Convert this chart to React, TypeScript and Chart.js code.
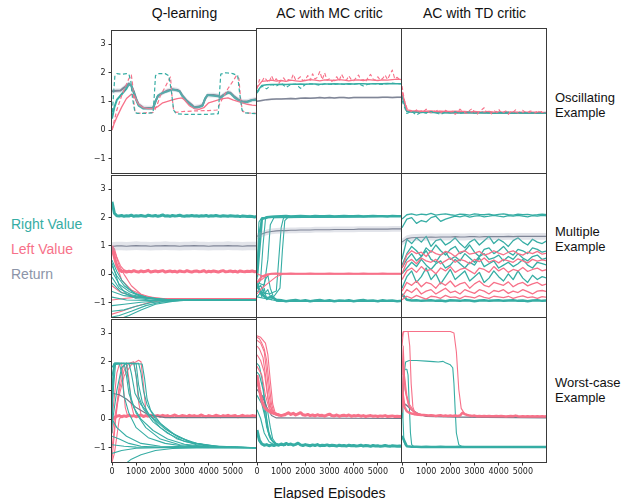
import React, { useEffect, useRef } from 'react';
import { Chart, registerables } from 'chart.js';
Chart.register(...registerables);

// ---------- colours ----------
const TEAL = '#36ada4';
const PINK = '#f77189';
const GRAY = '#737989';
const BAND = 'rgba(160,166,186,0.30)';
const TEXT_GRAY = '#8c94a8';

// ---------- axes ----------
const X_TICKS = [0, 1000, 2000, 3000, 4000, 5000];
const Y_TICKS = [-1, 0, 1, 2, 3];
const X_MIN = 0;
const X_MAX = 6000;
const Y_MIN = -1.5;
const Y_MAX = 3.5;

const COL_TITLES = ['Q-learning', 'AC with MC critic', 'AC with TD critic'];
const ROW_TITLES = [['Oscillating', 'Example'], ['Multiple', 'Example'], ['Worst-case', 'Example']];
const LEGEND_LABELS = ['Right Value', 'Left Value', 'Return'];
const X_LABEL = 'Elapsed Episodes';

// ---------- episode grids ----------
const EP_C = [0, 200, 400, 600, 800, 1000, 1200, 1400, 1600, 1800, 2000, 2200, 2400, 2600, 2800, 3000, 3200, 3400, 3600, 3800, 4000, 4200, 4400, 4600, 4800, 5000, 5200, 5400, 5600, 5800, 6000];
const EP_F = [0, 100, 200, 300, 400, 500, 600, 700, 800, 900, 1000, 1100, 1200, 1300, 1400, 1500, 1600, 1700, 1800, 1900, 2000, 2100, 2200, 2300, 2400, 2500, 2600, 2700, 2800, 2900, 3000, 3100, 3200, 3300, 3400, 3500, 3600, 3700, 3800, 3900, 4000, 4100, 4200, 4300, 4400, 4500, 4600, 4700, 4800, 4900, 5000, 5100, 5200, 5300, 5400, 5500, 5600, 5700, 5800, 5900, 6000];

// ---------- Q-learning / Oscillating ----------
const Q_OSC_RIGHT = [[0, 0.4], [100, 0.8], [200, 1.05], [400, 1.25], [600, 1.45], [700, 1.6], [800, 1.55], [900, 1.3], [1000, 1.05], [1100, 0.85], [1300, 0.75], [1500, 0.75], [1700, 0.75], [1800, 1.0], [1900, 1.2], [2100, 1.3], [2300, 1.35], [2500, 1.42], [2700, 1.38], [2800, 1.35], [2900, 1.2], [3100, 1.0], [3300, 0.85], [3400, 0.78], [3600, 0.8], [3750, 0.85], [3850, 1.1], [3950, 1.22], [4200, 1.2], [4400, 1.18], [4500, 1.12], [4600, 1.2], [4800, 1.3], [4900, 1.28], [5050, 1.15], [5200, 1.05], [5400, 0.97], [5600, 0.98], [5800, 1.05], [6000, 1.05]];
const Q_OSC_RETURN = [[0, 1.35], [200, 1.37], [350, 1.38], [500, 1.48], [700, 1.62], [800, 1.55], [900, 1.35], [1000, 1.1], [1100, 0.9], [1300, 0.78], [1500, 0.77], [1700, 0.78], [1800, 1.0], [1900, 1.18], [2100, 1.3], [2300, 1.38], [2500, 1.42], [2700, 1.4], [2800, 1.36], [2900, 1.22], [3100, 1.02], [3300, 0.88], [3400, 0.8], [3600, 0.82], [3750, 0.88], [3850, 1.08], [3950, 1.22], [4200, 1.22], [4400, 1.2], [4500, 1.15], [4600, 1.22], [4800, 1.32], [4900, 1.3], [5050, 1.18], [5200, 1.08], [5400, 1.0], [5600, 1.0], [5800, 1.05], [6000, 1.08]];
const Q_OSC_RETURN_SPREAD = 0.08;
const Q_OSC_LEFT = [[0, 0.0], [100, 0.25], [200, 0.45], [400, 0.8], [600, 1.1], [800, 1.25], [900, 1.22], [1000, 1.05], [1100, 0.9], [1300, 0.78], [1500, 0.75], [1700, 0.75], [1900, 0.82], [2100, 0.95], [2300, 1.0], [2500, 1.05], [2700, 1.1], [2900, 1.12], [3000, 1.05], [3200, 0.85], [3400, 0.75], [3600, 0.72], [3800, 0.78], [4000, 0.95], [4200, 1.0], [4400, 1.05], [4600, 1.1], [4800, 1.12], [5000, 1.05], [5200, 1.0], [5400, 0.95], [5600, 0.9], [5800, 0.87], [6000, 0.85]];
const Q_OSC_RIGHT_DASHED = [[0, 0.4], [60, 1.2], [120, 1.9], [200, 1.97], [400, 1.95], [600, 1.97], [700, 1.95], [780, 1.7], [850, 1.1], [950, 0.62], [1050, 0.58], [1400, 0.58], [1700, 0.6], [1750, 1.2], [1800, 1.9], [1900, 1.97], [2200, 1.97], [2350, 1.9], [2450, 1.4], [2550, 0.7], [2650, 0.57], [3000, 0.55], [3500, 0.55], [4000, 0.55], [4400, 0.57], [4450, 1.3], [4500, 1.95], [4700, 2.0], [5000, 1.97], [5200, 1.9], [5280, 1.3], [5380, 0.7], [5500, 0.6], [6000, 0.57]];
const Q_OSC_LEFT_DASHED = [[0, 0.0], [100, 0.35], [200, 0.7], [400, 1.2], [600, 1.6], [700, 1.8], [800, 1.92], [850, 1.6], [900, 1.0], [950, 0.65], [1050, 0.58], [1400, 0.6], [1700, 0.62], [1800, 0.75], [1900, 0.95], [2000, 1.2], [2200, 1.5], [2350, 1.75], [2420, 1.85], [2480, 1.2], [2550, 0.7], [2650, 0.62], [3000, 0.65], [3500, 0.67], [4000, 0.68], [4350, 0.7], [4450, 0.9], [4600, 1.15], [4800, 1.45], [5000, 1.7], [5150, 1.9], [5250, 1.8], [5320, 1.1], [5400, 0.65], [5600, 0.6], [6000, 0.58]];

// ---------- AC MC / Oscillating ----------
const MC_OSC_LEFT = [1.45, 1.66, 1.68, 1.70, 1.67, 1.69, 1.66, 1.70, 1.68, 1.66, 1.69, 1.72, 1.70, 1.68, 1.71, 1.70, 1.69, 1.72, 1.70, 1.68, 1.70, 1.71, 1.69, 1.72, 1.70, 1.69, 1.71, 1.70, 1.72, 1.74, 1.72];
const MC_OSC_LEFT_DASHED = [1.40, 1.72, 1.65, 1.80, 1.70, 1.62, 1.85, 1.68, 1.75, 1.60, 1.70, 1.78, 1.66, 1.72, 1.68, 1.90, 1.70, 1.75, 1.82, 1.68, 1.72, 1.86, 1.70, 1.92, 1.74, 1.80, 2.00, 1.72, 1.95, 1.70, 1.75, 1.66, 1.72, 1.82, 1.68, 1.90, 1.75, 1.70, 1.85, 1.72, 1.68, 1.78, 1.88, 1.70, 1.72, 1.65, 1.80, 1.90, 1.74, 1.70, 1.82, 1.70, 1.76, 1.88, 1.72, 1.90, 2.05, 1.75, 1.80, 1.72, 1.74];
const MC_OSC_RIGHT = [1.30, 1.52, 1.54, 1.55, 1.55, 1.56, 1.55, 1.56, 1.56, 1.57, 1.56, 1.57, 1.57, 1.56, 1.57, 1.57, 1.58, 1.57, 1.57, 1.58, 1.57, 1.58, 1.58, 1.57, 1.58, 1.58, 1.58, 1.59, 1.58, 1.58, 1.58];
const MC_OSC_RIGHT_DASHED = [1.25, 1.50, 1.40, 1.55, 1.50, 1.60, 1.45, 1.55, 1.57, 1.42, 1.55, 1.58, 1.56, 1.52, 1.58, 1.56, 1.55, 1.58, 1.55, 1.57, 1.56, 1.58, 1.50, 1.56, 1.58, 1.57, 1.55, 1.58, 1.60, 1.58, 1.57];
const MC_OSC_RETURN = [0.97, 1.00, 1.03, 1.04, 1.05, 1.05, 1.06, 1.07, 1.06, 1.08, 1.09, 1.08, 1.09, 1.10, 1.09, 1.10, 1.09, 1.10, 1.10, 1.09, 1.10, 1.10, 1.10, 1.10, 1.10, 1.10, 1.11, 1.11, 1.10, 1.11, 1.11];

// ---------- AC TD / Oscillating ----------
const TD_OSC_LEFT = [1.30, 0.68, 0.65, 0.64, 0.63, 0.63, 0.64, 0.62, 0.63, 0.62, 0.62, 0.63, 0.62, 0.62, 0.61, 0.62, 0.61, 0.61, 0.62, 0.60, 0.61, 0.60, 0.60, 0.61, 0.60, 0.60, 0.60, 0.60, 0.60, 0.59, 0.59];
const TD_OSC_LEFT_DASHED = [1.50, 1.00, 0.75, 0.65, 0.62, 0.60, 0.68, 0.55, 0.65, 0.62, 0.70, 0.60, 0.58, 0.64, 0.62, 0.68, 0.60, 0.55, 0.66, 0.62, 0.58, 0.63, 0.52, 0.60, 0.70, 0.62, 0.58, 0.55, 0.66, 0.72, 0.60, 0.50, 0.62, 0.68, 0.75, 0.58, 0.62, 0.54, 0.66, 0.60, 0.70, 0.58, 0.60, 0.64, 0.52, 0.62, 0.60, 0.68, 0.56, 0.62, 0.66, 0.60, 0.58, 0.64, 0.62, 0.56, 0.66, 0.60, 0.62, 0.58, 0.60];
const TD_OSC_RIGHT = [1.20, 0.62, 0.60, 0.60, 0.59, 0.60, 0.59, 0.59, 0.59, 0.58, 0.59, 0.58, 0.58, 0.58, 0.58, 0.58, 0.58, 0.57, 0.58, 0.57, 0.58, 0.57, 0.57, 0.58, 0.57, 0.57, 0.57, 0.57, 0.57, 0.57, 0.57];
const TD_OSC_RIGHT_DASHED = [1.00, 0.55, 0.62, 0.50, 0.60, 0.56, 0.62, 0.58, 0.52, 0.60, 0.57, 0.61, 0.55, 0.59, 0.60, 0.56, 0.58, 0.61, 0.57, 0.55, 0.59, 0.58, 0.60, 0.56, 0.58, 0.59, 0.57, 0.58, 0.56, 0.58, 0.57];
const TD_OSC_RETURN = [1.15, 0.63, 0.61, 0.60, 0.60, 0.59, 0.60, 0.59, 0.59, 0.59, 0.58, 0.59, 0.58, 0.58, 0.58, 0.58, 0.58, 0.58, 0.58, 0.57, 0.58, 0.57, 0.58, 0.57, 0.57, 0.57, 0.57, 0.57, 0.57, 0.57, 0.57];

// ---------- Q-learning / Multiple ----------
const Q_MUL_RIGHT_TOP = [2.55, 2.15, 2.06, 2.05, 2.07, 2.04, 2.06, 2.05, 2.08, 2.04, 2.06, 2.05, 2.07, 2.05, 2.04, 2.08, 2.06, 2.05, 2.07, 2.04, 2.06, 2.09, 2.05, 2.06, 2.04, 2.07, 2.05, 2.06, 2.08, 2.05, 2.04, 2.06, 2.05, 2.07, 2.05, 2.06, 2.04, 2.06, 2.05, 2.07, 2.04, 2.06, 2.05, 2.07, 2.05, 2.04, 2.06, 2.05, 2.04, 2.06, 2.05, 2.04, 2.05, 2.03, 2.05, 2.04, 2.03, 2.04, 2.03, 2.02, 2.03];
const Q_MUL_LEFT_BAND = [1.00, 0.60, 0.30, 0.15, 0.10, 0.12, 0.08, 0.11, 0.09, 0.13, 0.10, 0.08, 0.12, 0.09, 0.11, 0.14, 0.08, 0.10, 0.12, 0.09, 0.11, 0.13, 0.08, 0.10, 0.12, 0.09, 0.11, 0.08, 0.12, 0.10, 0.09, 0.13, 0.10, 0.08, 0.11, 0.12, 0.09, 0.10, 0.13, 0.08, 0.11, 0.09, 0.12, 0.10, 0.08, 0.11, 0.13, 0.09, 0.10, 0.12, 0.09, 0.11, 0.08, 0.12, 0.10, 0.09, 0.11, 0.10, 0.12, 0.09, 0.10];
const Q_MUL_RETURN = [0.98, 1.00, 1.00, 0.99, 1.00, 1.01, 1.00, 1.00, 0.99, 1.00, 1.00, 1.01, 1.00, 1.00, 0.99, 1.00, 1.00, 1.01, 1.00, 1.00, 0.99, 1.00, 1.00, 1.00, 1.01, 1.00, 1.00, 0.99, 1.00, 1.00, 1.00];
const Q_MUL_RETURN_SPREAD = 0.15;
const Q_MUL_RIGHT_RUNS = [
  [[0, 0.5], [200, 0.1], [400, -0.2], [700, -0.5], [1000, -0.7], [1500, -0.82], [2000, -0.88], [2500, -0.9], [6000, -0.9]],
  [[0, 0.3], [200, -0.05], [500, -0.4], [900, -0.65], [1400, -0.8], [2000, -0.87], [2600, -0.9], [6000, -0.9]],
  [[0, 0.1], [300, -0.35], [700, -0.6], [1200, -0.78], [1800, -0.86], [2500, -0.9], [6000, -0.9]],
  [[0, -0.1], [300, -0.5], [800, -0.72], [1500, -0.84], [2300, -0.89], [6000, -0.9]],
  [[0, -0.3], [400, -0.65], [1000, -0.8], [1800, -0.87], [2600, -0.9], [6000, -0.9]],
  [[0, -0.6], [500, -0.75], [1200, -0.82], [2000, -0.88], [6000, -0.9]],
  [[0, -0.8], [600, -0.9], [1500, -0.92], [6000, -0.9]],
  [[0, -1.1], [500, -1.05], [1200, -0.98], [2000, -0.93], [3000, -0.9], [6000, -0.9]],
  [[0, -1.3], [500, -1.25], [1000, -1.12], [1600, -1.0], [2400, -0.93], [3200, -0.9], [6000, -0.9]],
  [[0, -1.5], [300, -1.45], [800, -1.3], [1400, -1.1], [2000, -0.98], [2800, -0.92], [6000, -0.9]],
  [[200, -1.6], [700, -1.45], [1200, -1.25], [1800, -1.05], [2500, -0.95], [3200, -0.9], [6000, -0.9]],
  [[0, 0.4], [150, 0.0], [300, -0.4], [600, -0.7], [1000, -0.85], [1600, -0.9], [6000, -0.9]],
];
const Q_MUL_LEFT_RUNS = [
  [[0, 1.0], [100, 0.9], [200, 0.6], [350, 0.3], [500, 0.15], [700, 0.1]],
  [[0, 1.0], [150, 0.7], [300, 0.3], [500, 0.0], [800, -0.4], [1200, -0.7], [1800, -0.85], [2500, -0.88], [6000, -0.85]],
  [[0, 0.8], [200, 0.3], [400, -0.2], [800, -0.55], [1400, -0.78], [2200, -0.86], [6000, -0.86]],
  [[0, -0.4], [300, -0.6], [800, -0.75], [1500, -0.84], [2500, -0.87], [6000, -0.87]],
  [[0, -1.4], [400, -1.3], [900, -1.15], [1500, -1.0], [2200, -0.9], [3000, -0.87], [6000, -0.86]],
  [[0, -0.9], [500, -0.85], [1000, -0.8], [2000, -0.85], [6000, -0.85]],
];

// ---------- AC MC / Multiple ----------
const MC_MUL_RETURN = [1.30, 1.38, 1.44, 1.47, 1.49, 1.50, 1.50, 1.51, 1.51, 1.52, 1.52, 1.52, 1.53, 1.53, 1.53, 1.53, 1.54, 1.54, 1.54, 1.54, 1.54, 1.55, 1.55, 1.55, 1.55, 1.55, 1.55, 1.55, 1.56, 1.56, 1.56];
const MC_MUL_RETURN_SPREAD = 0.1;
const MC_MUL_RIGHT_TOP = [-0.10, 1.90, 1.96, 1.98, 1.99, 2.00, 2.01, 1.99, 2.00, 2.01, 2.00, 1.99, 2.01, 2.00, 2.00, 2.01, 1.99, 2.00, 2.01, 2.00, 2.00, 2.01, 1.99, 2.00, 2.01, 2.00, 2.00, 1.99, 2.01, 2.00, 2.00];
const MC_MUL_RIGHT_BOTTOM = [-0.40, -0.70, -0.85, -0.80, -0.90, -0.92, -0.95, -0.93, -0.91, -0.94, -0.92, -0.95, -0.93, -0.91, -0.94, -0.92, -0.95, -0.93, -0.94, -0.92, -0.95, -0.93, -0.91, -0.94, -0.93, -0.95, -0.92, -0.94, -0.93, -0.95, -0.94];
const MC_MUL_LEFT = [-0.30, -0.10, -0.02, 0.00, 0.01, 0.00, 0.00, 0.01, 0.00, 0.00, 0.00, 0.01, 0.00, 0.00, 0.00, 0.01, 0.00, 0.00, 0.00, 0.01, 0.00, 0.00, 0.01, 0.00, 0.00, 0.00, 0.01, 0.00, 0.00, 0.00, 0.00];
const MC_MUL_RIGHT_RUNS = [
  [[0, -0.2], [100, 1.5], [200, 1.9], [400, 1.98], [800, 2.0], [6000, 2.0]],
  [[0, 0.0], [80, 1.8], [200, 1.95], [6000, 2.0]],
  [[0, -0.5], [150, -0.2], [250, 1.0], [350, 1.9], [500, 1.98], [6000, 2.0]],
  [[0, -0.3], [300, -0.4], [450, 0.5], [550, 1.7], [700, 1.95], [6000, 2.0]],
  [[0, -0.6], [500, -0.7], [800, -0.6], [900, 0.5], [1000, 1.6], [1100, 1.95], [6000, 2.0]],
  [[0, -0.8], [600, -0.9], [950, -0.5], [1050, 0.8], [1150, 1.85], [1300, 1.98], [6000, 2.0]],
  [[0, -0.3], [100, -0.6], [200, -0.8], [300, -0.5], [400, -0.9], [600, -0.75], [800, -0.95], [6000, -0.95]],
  [[0, -0.5], [150, -0.4], [300, -0.7], [450, -0.55], [600, -0.9], [900, -0.95], [6000, -0.95]],
  [[0, -0.8], [200, -0.6], [350, -0.2], [450, -0.05], [550, -0.5], [700, -0.85], [900, -0.95], [6000, -0.95]],
];
const MC_MUL_LEFT_RUNS = [
  [[0, -0.3], [200, -0.2], [400, -0.05], [600, 0.0], [6000, 0.0]],
  [[0, -0.7], [200, -0.5], [500, -0.3], [800, -0.1], [1100, 0.0], [6000, 0.01]],
  [[0, 0.0], [300, -0.1], [600, 0.0], [6000, 0.0]],
];

// ---------- AC TD / Multiple ----------
const TD_MUL_RETURN = [1.10, 1.22, 1.25, 1.26, 1.27, 1.27, 1.28, 1.27, 1.28, 1.28, 1.28, 1.29, 1.28, 1.28, 1.29, 1.29, 1.28, 1.29, 1.29, 1.29, 1.29, 1.29, 1.30, 1.29, 1.30, 1.30, 1.30, 1.30, 1.30, 1.30, 1.30];
const TD_MUL_RETURN_SPREAD = 0.12;
const TD_MUL_RIGHT_RUNS = [
  [1.90, 2.05, 2.08, 2.04, 2.07, 2.05, 2.10, 2.04, 2.06, 2.08, 2.05, 2.03, 2.07, 2.06, 2.04, 2.08, 2.06, 2.05, 2.07, 2.04, 2.06, 2.08, 2.05, 2.04, 2.07, 2.05, 2.06, 2.04, 2.05, 2.07, 2.05],
  [1.60, 1.90, 1.95, 1.75, 1.85, 1.80, 1.95, 2.00, 1.82, 1.90, 1.95, 2.00, 1.98, 2.02, 1.97, 2.00, 2.02, 1.98, 2.00, 2.03, 2.00, 1.98, 2.02, 2.00, 2.03, 2.00, 1.98, 2.02, 2.00, 2.03, 2.01],
  [0.50, 1.20, 1.05, 1.25, 1.10, 1.30, 0.95, 1.15, 1.20, 1.00, 1.10, 1.25, 1.05, 0.90, 1.10, 1.20, 1.00, 1.15, 1.30, 1.05, 1.20, 1.10, 0.95, 1.15, 1.25, 1.10, 1.00, 1.20, 1.10, 1.05, 1.15],
  [0.30, 0.70, 0.95, 0.80, 0.60, 0.90, 0.75, 1.00, 0.80, 0.65, 0.85, 0.95, 0.70, 0.80, 1.00, 0.75, 0.60, 0.85, 0.90, 0.70, 0.80, 0.95, 0.75, 0.65, 0.85, 0.80, 0.70, 0.90, 0.85, 0.75, 0.80],
  [0.20, 0.50, 0.70, 0.45, 0.60, 0.80, 0.50, 0.40, 0.65, 0.75, 0.50, 0.60, 0.45, 0.70, 0.55, 0.40, 0.60, 0.70, 0.50, 0.55, 0.65, 0.45, 0.60, 0.50, 0.70, 0.55, 0.45, 0.60, 0.65, 0.50, 0.55],
  [0.00, 0.20, 0.40, 0.25, 0.50, 0.30, 0.15, 0.35, 0.45, 0.20, 0.30, 0.50, 0.35, 0.20, 0.40, 0.30, 0.55, 0.25, 0.35, 0.45, 0.20, 0.30, 0.40, 0.25, 0.35, 0.50, 0.30, 0.20, 0.40, 0.35, 0.30],
  [-0.50, -0.10, 0.10, -0.30, -0.10, 0.20, -0.20, 0.00, -0.35, -0.10, 0.15, -0.20, -0.05, 0.10, -0.25, -0.10, 0.05, -0.30, -0.15, 0.10, -0.10, -0.25, 0.00, -0.20, 0.10, -0.15, -0.30, -0.05, -0.20, -0.10, -0.15],
];
const TD_MUL_RIGHT_BOTTOM = [-0.70, -0.90, -0.93, -0.92, -0.94, -0.93, -0.92, -0.94, -0.93, -0.95, -0.92, -0.93, -0.94, -0.92, -0.93, -0.95, -0.93, -0.92, -0.94, -0.93, -0.92, -0.94, -0.93, -0.92, -0.94, -0.93, -0.95, -0.93, -0.92, -0.94, -0.93];
const TD_MUL_LEFT_RUNS = [
  [0.20, 0.65, 0.80, 0.70, 0.75, 0.60, 0.80, 0.70, 0.65, 0.78, 0.72, 0.60, 0.75, 0.80, 0.68, 0.72, 0.78, 0.65, 0.70, 0.80, 0.72, 0.66, 0.75, 0.80, 0.70, 0.65, 0.75, 0.70, 0.78, 0.68, 0.72],
  [0.00, 0.40, 0.50, 0.35, 0.55, 0.45, 0.40, 0.50, 0.35, 0.45, 0.55, 0.40, 0.50, 0.45, 0.35, 0.50, 0.42, 0.55, 0.40, 0.48, 0.38, 0.50, 0.45, 0.40, 0.52, 0.45, 0.38, 0.50, 0.44, 0.48, 0.45],
  [-0.20, 0.10, 0.20, 0.05, 0.25, 0.10, 0.15, 0.00, 0.20, 0.10, 0.25, 0.05, 0.15, 0.20, 0.10, 0.00, 0.20, 0.15, 0.05, 0.25, 0.10, 0.20, 0.05, 0.15, 0.10, 0.22, 0.08, 0.15, 0.20, 0.10, 0.15],
  [-0.60, -0.30, -0.40, -0.25, -0.45, -0.30, -0.35, -0.50, -0.30, -0.40, -0.25, -0.45, -0.35, -0.30, -0.50, -0.35, -0.25, -0.40, -0.45, -0.30, -0.35, -0.40, -0.28, -0.45, -0.35, -0.30, -0.42, -0.35, -0.30, -0.40, -0.35],
  [-0.80, -0.55, -0.65, -0.50, -0.70, -0.60, -0.55, -0.70, -0.60, -0.50, -0.65, -0.60, -0.70, -0.55, -0.62, -0.68, -0.55, -0.60, -0.70, -0.58, -0.62, -0.55, -0.68, -0.60, -0.65, -0.55, -0.62, -0.70, -0.60, -0.58, -0.62],
  [-0.90, -0.78, -0.85, -0.75, -0.82, -0.88, -0.78, -0.80, -0.85, -0.75, -0.82, -0.80, -0.86, -0.78, -0.80, -0.84, -0.76, -0.82, -0.85, -0.78, -0.80, -0.83, -0.78, -0.85, -0.80, -0.77, -0.83, -0.80, -0.85, -0.79, -0.82],
];

// ---------- Q-learning / Worst-case ----------
const Q_WST_RIGHT_RUNS = [
  [[0, -0.5], [50, 1.5], [100, 1.95], [300, 1.95], [400, 1.6], [500, 0.8], [700, 0.2], [1000, -0.3], [1500, -0.65], [2200, -0.85], [3000, -0.95], [4000, -0.98], [6000, -1.0]],
  [[0, 0.2], [80, 1.9], [500, 1.95], [600, 1.5], [700, 0.9], [900, 0.4], [1200, 0.0], [1700, -0.4], [2300, -0.7], [3000, -0.88], [4000, -0.97], [6000, -1.0]],
  [[0, 0.8], [100, 1.95], [700, 1.95], [800, 1.6], [950, 0.9], [1200, 0.5], [1600, 0.1], [2200, -0.35], [2800, -0.65], [3500, -0.85], [4500, -0.97], [6000, -1.0]],
  [[0, 1.0], [80, 1.92], [900, 1.95], [1000, 1.5], [1100, 0.8], [1300, 0.35], [1700, -0.1], [2300, -0.5], [3000, -0.78], [4000, -0.93], [6000, -1.0]],
  [[0, 1.5], [100, 1.95], [1100, 1.95], [1200, 1.6], [1300, 1.0], [1450, 0.5], [1800, 0.0], [2400, -0.45], [3200, -0.8], [4200, -0.95], [6000, -1.0]],
  [[0, 1.8], [100, 1.95], [1250, 1.92], [1350, 1.4], [1450, 0.7], [1600, 0.3], [2000, -0.15], [2600, -0.55], [3400, -0.85], [4500, -0.97], [6000, -1.0]],
  [[0, -0.2], [200, 1.0], [400, 1.8], [600, 1.95], [650, 1.5], [800, 0.7], [1000, 0.2], [1400, -0.3], [2000, -0.7], [2800, -0.9], [4000, -0.98], [6000, -1.0]],
  [[0, 0.5], [150, 1.95], [1000, 1.93], [1100, 1.2], [1250, 0.6], [1500, 0.2], [2000, -0.3], [2700, -0.7], [3500, -0.9], [4500, -0.98], [6000, -1.0]],
  [[0, -0.9], [500, -0.95], [1000, -0.98], [6000, -1.0]],
  [[0, -1.2], [400, -1.1], [1000, -1.02], [2000, -1.0], [6000, -1.0]],
  [[500, -1.6], [800, -1.4], [1200, -1.25], [1800, -1.1], [2500, -1.03], [3500, -1.0], [6000, -1.0]],
  [[0, -0.6], [300, -0.7], [700, -0.85], [1200, -0.95], [2000, -0.99], [6000, -1.0]],
  [[0, 0.0], [200, -0.3], [600, -0.6], [1200, -0.85], [2000, -0.95], [6000, -1.0]],
];
const Q_WST_LEFT_RUNS = [
  [[0, -1.4], [100, -0.5], [200, 0.5], [350, 1.5], [500, 1.9], [600, 1.95], [700, 1.4], [800, 0.5], [900, 0.15], [1000, 0.1]],
  [[0, -1.0], [150, 0.0], [300, 1.0], [500, 1.7], [700, 1.95], [900, 2.0], [1000, 1.5], [1100, 0.6], [1200, 0.15], [1300, 0.1]],
  [[0, -0.5], [200, 0.5], [500, 1.5], [800, 1.9], [1100, 2.05], [1200, 2.0], [1300, 1.2], [1400, 0.3], [1500, 0.1]],
  [[0, 0.0], [100, 0.8], [200, 1.6], [300, 1.9], [400, 1.95], [450, 1.3], [550, 0.4], [650, 0.1]],
  [[0, -1.5], [100, -1.2], [200, -0.6], [300, 0.0], [400, 0.1]],
];
const Q_WST_LEFT_BAND = [0.00, 0.05, 0.10, 0.12, 0.08, 0.11, 0.09, 0.13, 0.10, 0.12, 0.08, 0.11, 0.14, 0.09, 0.12, 0.10, 0.13, 0.08, 0.11, 0.12, 0.09, 0.13, 0.10, 0.12, 0.08, 0.11, 0.14, 0.10, 0.09, 0.12, 0.11, 0.08, 0.13, 0.10, 0.12, 0.09, 0.11, 0.14, 0.10, 0.08, 0.12, 0.10, 0.09, 0.13, 0.11, 0.08, 0.12, 0.10, 0.13, 0.09, 0.11, 0.12, 0.08, 0.10, 0.13, 0.09, 0.11, 0.10, 0.12, 0.11, 0.10];
const Q_WST_RETURN = [[0, 0.9], [300, 0.85], [600, 0.7], [1000, 0.4], [1500, 0.15], [2200, 0.05], [6000, 0.05]];

// ---------- AC MC / Worst-case ----------
const MC_WST_LEFT_RUNS = [
  [[0, 2.8], [100, 2.75], [200, 2.6], [300, 2.4], [400, 2.0], [500, 1.2], [600, 0.5], [700, 0.2], [900, 0.12], [1200, 0.1]],
  [[0, 2.7], [150, 2.6], [300, 2.3], [400, 1.6], [500, 0.8], [600, 0.3], [800, 0.15], [1000, 0.1]],
  [[0, 2.5], [100, 2.4], [250, 2.1], [350, 1.5], [450, 0.7], [550, 0.3], [700, 0.15], [900, 0.1]],
  [[0, 2.2], [150, 2.0], [300, 1.6], [400, 1.0], [500, 0.5], [700, 0.2], [1000, 0.12]],
  [[0, 2.85], [150, 2.8], [350, 2.6], [450, 2.2], [550, 1.3], [650, 0.5], [750, 0.2], [1000, 0.12]],
  [[0, 1.8], [200, 1.5], [350, 0.8], [500, 0.35], [700, 0.15], [900, 0.1]],
];
const MC_WST_LEFT_BAND = [1.50, 1.00, 0.60, 0.40, 0.30, 0.25, 0.20, 0.18, 0.15, 0.12, 0.10, 0.12, 0.15, 0.20, 0.14, 0.18, 0.12, 0.16, 0.20, 0.13, 0.11, 0.14, 0.10, 0.12, 0.09, 0.13, 0.10, 0.11, 0.08, 0.12, 0.15, 0.10, 0.09, 0.12, 0.08, 0.10, 0.11, 0.09, 0.12, 0.08, 0.10, 0.09, 0.11, 0.08, 0.10, 0.07, 0.09, 0.10, 0.08, 0.09, 0.07, 0.09, 0.08, 0.10, 0.07, 0.08, 0.09, 0.07, 0.08, 0.07, 0.08];
const MC_WST_RIGHT_RUNS = [
  [[0, 1.9], [100, 1.8], [200, 1.4], [300, 0.8], [400, 0.0], [500, -0.5], [650, -0.8], [900, -0.9], [1200, -0.93]],
  [[0, 1.6], [100, 1.5], [250, 1.0], [350, 0.3], [450, -0.4], [600, -0.75], [800, -0.9], [1100, -0.93]],
  [[0, 1.2], [150, 0.9], [300, 0.3], [400, -0.3], [550, -0.7], [800, -0.88], [1000, -0.92]],
  [[0, 0.8], [200, 0.5], [350, 0.0], [500, -0.6], [700, -0.85], [900, -0.92]],
  [[0, 0.3], [150, 0.0], [300, -0.5], [500, -0.8], [700, -0.9]],
  [[0, 1.0], [300, 0.7], [450, 0.2], [550, -0.3], [650, -0.7], [800, -0.88], [1000, -0.92]],
  [[0, -0.5], [100, -0.8], [300, -0.95]],
];
const MC_WST_RIGHT_BAND = [-0.40, -0.75, -0.88, -0.92, -0.90, -0.94, -0.91, -0.93, -0.90, -0.92, -0.88, -0.91, -0.86, -0.90, -0.88, -0.92, -0.89, -0.85, -0.91, -0.93, -0.90, -0.92, -0.94, -0.91, -0.93, -0.90, -0.94, -0.92, -0.93, -0.91, -0.94, -0.92, -0.93, -0.95, -0.92, -0.94, -0.93, -0.95, -0.92, -0.94, -0.93, -0.95, -0.94, -0.92, -0.95, -0.93, -0.94, -0.96, -0.93, -0.95, -0.94, -0.96, -0.95, -0.93, -0.95, -0.96, -0.94, -0.95, -0.96, -0.95, -0.96];
const MC_WST_RETURN = [[0, 1.0], [200, 0.8], [400, 0.4], [600, 0.1], [800, 0.02], [6000, 0.0]];

// ---------- AC TD / Worst-case ----------
const TD_WST_LEFT_RUNS = [
  [[0, 2.5], [50, 2.95], [100, 3.0], [1000, 3.0], [2000, 3.0], [2150, 2.95], [2250, 2.3], [2350, 1.0], [2450, 0.35], [2600, 0.15], [2800, 0.1]],
  [[0, 2.8], [50, 3.0], [250, 3.0], [320, 2.5], [380, 1.2], [450, 0.4], [550, 0.15], [700, 0.1]],
  [[0, 1.5], [50, 2.5], [100, 1.5], [200, 0.8], [300, 0.5], [500, 0.25], [700, 0.15], [1000, 0.1]],
  [[0, 0.5], [60, 2.0], [120, 1.0], [250, 0.5], [400, 0.3], [600, 0.18], [900, 0.12]],
  [[0, 0.2], [80, 1.6], [150, 0.9], [300, 0.4], [500, 0.2], [800, 0.1]],
];
const TD_WST_LEFT_BAND = [1.00, 0.40, 0.25, 0.20, 0.17, 0.15, 0.14, 0.13, 0.12, 0.12, 0.11, 0.10, 0.11, 0.10, 0.09, 0.10, 0.11, 0.09, 0.10, 0.09, 0.10, 0.09, 0.10, 0.09, 0.10, 0.20, 0.15, 0.12, 0.10, 0.09, 0.10, 0.08, 0.09, 0.08, 0.09, 0.08, 0.09, 0.08, 0.08, 0.09, 0.08, 0.09, 0.08, 0.07, 0.08, 0.09, 0.08, 0.10, 0.08, 0.07, 0.08, 0.07, 0.08, 0.07, 0.08, 0.07, 0.08, 0.07, 0.08, 0.07, 0.08];
const TD_WST_RIGHT_RUNS = [
  [[0, 0.0], [80, 1.5], [150, 1.95], [300, 2.0], [600, 2.0], [1000, 1.98], [1300, 1.96], [1500, 1.95], [1700, 1.97], [1800, 1.92], [2000, 1.85], [2100, 1.75], [2150, 1.2], [2200, 0.3], [2250, -0.5], [2350, -0.9], [2500, -0.98], [6000, -1.0]],
  [[0, 0.5], [60, 1.5], [120, 1.7], [200, 1.7], [250, 1.5], [300, 0.5], [350, -0.5], [400, -0.9], [500, -0.98]],
  [[0, 1.0], [40, 0.0], [80, -0.8], [150, -0.95]],
];
const TD_WST_RIGHT_BOTTOM = [-0.60, -0.96, -0.97, -0.97, -0.98, -0.97, -0.98, -0.98, -0.97, -0.98, -0.98, -0.98, -0.97, -0.98, -0.98, -0.98, -0.98, -0.98, -0.98, -0.98, -0.98, -0.98, -0.98, -0.98, -0.98, -0.98, -0.98, -0.98, -0.98, -0.98, -0.98];
const TD_WST_RETURN = [[0, 0.6], [100, 0.5], [200, 0.45], [400, 0.3], [700, 0.15], [1000, 0.08], [2200, 0.05], [6000, 0.03]];

// ---------- layout ----------
const COL_LEFT = [112, 257, 402];
const COL_W = 145;
const ROW_TOP = [28, 173, 317];
const ROW_H = [145, 144, 145];
const PAD_L = 30;
const PAD_T = 6;
const PAD_R = 6;
const PAD_B = 20;

// ---------- dataset helpers ----------
const fromPairs = (pairs: number[][]) => pairs.map(([x, y]) => ({ x, y }));
const fromGrid = (xs: number[], ys: number[]) => ys.map((y, i) => ({ x: xs[i], y }));

function line(data: { x: number; y: number }[], color: string, width = 1.1, dash: number[] = []) {
  return { data, borderColor: color, borderWidth: width, borderDash: dash, pointRadius: 0, fill: false, tension: 0, borderJoinStyle: 'round' as const };
}
function band(data: { x: number; y: number }[], spread: number) {
  return [
    { data: data.map((p) => ({ x: p.x, y: p.y + spread })), borderWidth: 0, pointRadius: 0, backgroundColor: BAND, fill: '+1', tension: 0 },
    { data: data.map((p) => ({ x: p.x, y: p.y - spread })), borderWidth: 0, pointRadius: 0, fill: false, tension: 0 },
  ];
}
const DASH = [4, 2.5];

function buildPanels(): any[][][] {
  const qOsc = [
    ...band(fromPairs(Q_OSC_RETURN), Q_OSC_RETURN_SPREAD),
    line(fromPairs(Q_OSC_RIGHT_DASHED), TEAL, 1.2, DASH),
    line(fromPairs(Q_OSC_LEFT_DASHED), PINK, 1.2, DASH),
    line(fromPairs(Q_OSC_LEFT), PINK, 1.3),
    line(fromPairs(Q_OSC_RIGHT), TEAL, 2),
    line(fromPairs(Q_OSC_RETURN), GRAY, 2),
  ];
  const mcOsc = [
    ...band(fromGrid(EP_C, MC_OSC_RETURN), 0.03),
    line(fromGrid(EP_C, MC_OSC_RIGHT_DASHED), TEAL, 1.1, DASH),
    line(fromGrid(EP_F, MC_OSC_LEFT_DASHED), PINK, 1.1, DASH),
    line(fromGrid(EP_C, MC_OSC_LEFT), PINK, 1.3),
    line(fromGrid(EP_C, MC_OSC_RIGHT), TEAL, 1.5),
    line(fromGrid(EP_C, MC_OSC_RETURN), GRAY, 1.5),
  ];
  const tdOsc = [
    line(fromGrid(EP_C, TD_OSC_RIGHT_DASHED), TEAL, 1.1, DASH),
    line(fromGrid(EP_F, TD_OSC_LEFT_DASHED), PINK, 1.1, DASH),
    line(fromGrid(EP_C, TD_OSC_LEFT), PINK, 1.3),
    line(fromGrid(EP_C, TD_OSC_RIGHT), TEAL, 1.5),
    line(fromGrid(EP_C, TD_OSC_RETURN), GRAY, 1.5),
  ];
  const qMul = [
    ...band(fromGrid(EP_C, Q_MUL_RETURN), Q_MUL_RETURN_SPREAD),
    ...Q_MUL_RIGHT_RUNS.map((r) => line(fromPairs(r), TEAL, 1.1)),
    ...Q_MUL_LEFT_RUNS.map((r) => line(fromPairs(r), PINK, 1.1)),
    line(fromGrid(EP_F, Q_MUL_LEFT_BAND), PINK, 3),
    line(fromGrid(EP_F, Q_MUL_RIGHT_TOP), TEAL, 3),
    line(fromGrid(EP_C, Q_MUL_RETURN), GRAY, 1.1),
  ];
  const mcMul = [
    ...band(fromGrid(EP_C, MC_MUL_RETURN), MC_MUL_RETURN_SPREAD),
    ...MC_MUL_LEFT_RUNS.map((r) => line(fromPairs(r), PINK, 1.1)),
    line(fromGrid(EP_C, MC_MUL_LEFT), PINK, 2),
    ...MC_MUL_RIGHT_RUNS.map((r) => line(fromPairs(r), TEAL, 1.1)),
    line(fromGrid(EP_C, MC_MUL_RIGHT_TOP), TEAL, 2.5),
    line(fromGrid(EP_C, MC_MUL_RIGHT_BOTTOM), TEAL, 2.5),
    line(fromGrid(EP_C, MC_MUL_RETURN), GRAY, 1.1),
  ];
  const tdMul = [
    ...band(fromGrid(EP_C, TD_MUL_RETURN), TD_MUL_RETURN_SPREAD),
    ...TD_MUL_LEFT_RUNS.map((r) => line(fromGrid(EP_C, r), PINK, 1.3)),
    ...TD_MUL_RIGHT_RUNS.map((r) => line(fromGrid(EP_C, r), TEAL, 1.3)),
    line(fromGrid(EP_C, TD_MUL_RIGHT_BOTTOM), TEAL, 2.5),
    line(fromGrid(EP_C, TD_MUL_RETURN), GRAY, 1.1),
  ];
  const qWst = [
    ...Q_WST_RIGHT_RUNS.map((r) => line(fromPairs(r), TEAL, 1.1)),
    line(fromPairs(Q_WST_RETURN), GRAY, 1.1),
    ...Q_WST_LEFT_RUNS.map((r) => line(fromPairs(r), PINK, 1.1)),
    line(fromGrid(EP_F, Q_WST_LEFT_BAND), PINK, 3),
  ];
  const mcWst = [
    ...MC_WST_LEFT_RUNS.map((r) => line(fromPairs(r), PINK, 1.1)),
    line(fromGrid(EP_F, MC_WST_LEFT_BAND), PINK, 3),
    line(fromPairs(MC_WST_RETURN), GRAY, 1.1),
    ...MC_WST_RIGHT_RUNS.map((r) => line(fromPairs(r), TEAL, 1.1)),
    line(fromGrid(EP_F, MC_WST_RIGHT_BAND), TEAL, 3),
  ];
  const tdWst = [
    ...TD_WST_LEFT_RUNS.map((r) => line(fromPairs(r), PINK, 1.1)),
    line(fromGrid(EP_F, TD_WST_LEFT_BAND), PINK, 2.5),
    line(fromPairs(TD_WST_RETURN), GRAY, 1.5),
    ...TD_WST_RIGHT_RUNS.map((r) => line(fromPairs(r), TEAL, 1.1)),
    line(fromGrid(EP_C, TD_WST_RIGHT_BOTTOM), TEAL, 2.5),
  ];
  return [
    [qOsc, mcOsc, tdOsc],
    [qMul, mcMul, tdMul],
    [qWst, mcWst, tdWst],
  ];
}

const framePlugin = {
  id: 'frame',
  afterDraw(chart: any) {
    const { left, top, right, bottom } = chart.chartArea;
    const ctx = chart.ctx;
    ctx.save();
    ctx.strokeStyle = '#3a3a3a';
    ctx.lineWidth = 1;
    ctx.strokeRect(Math.round(left) - 0.5, Math.round(top) + 0.5, Math.round(right - left), Math.round(bottom - top));
    ctx.restore();
  },
};

const tickFont = { family: 'DejaVu Sans', size: 8 };

function Panel({ row, col, datasets }: { row: number; col: number; datasets: any[] }) {
  const ref = useRef<HTMLCanvasElement>(null);
  const w = PAD_L + COL_W + PAD_R;
  const h = PAD_T + ROW_H[row] + PAD_B;
  const showX = row === 2;
  const showY = col === 0;
  useEffect(() => {
    const chart = new Chart(ref.current as HTMLCanvasElement, {
      type: 'line',
      data: { datasets },
      options: {
        animation: false,
        responsive: false,
        devicePixelRatio: 1,
        layout: { padding: { top: PAD_T, right: PAD_R, left: 0, bottom: 0 } },
        plugins: { legend: { display: false }, tooltip: { enabled: false } },
        elements: { point: { radius: 0 }, line: { tension: 0 } },
        scales: {
          x: {
            type: 'linear',
            min: X_MIN,
            max: X_MAX,
            afterBuildTicks: (s: any) => { s.ticks = X_TICKS.map((v) => ({ value: v })); },
            afterFit: (s: any) => { s.height = PAD_B; },
            grid: { display: showX, drawOnChartArea: false, drawTicks: true, tickLength: 3.5, color: '#333' },
            border: { display: false },
            ticks: { display: showX, font: tickFont, color: '#222', padding: 2, maxRotation: 0, autoSkip: false, callback: (v: any) => String(v) },
          },
          y: {
            type: 'linear',
            min: Y_MIN,
            max: Y_MAX,
            afterBuildTicks: (s: any) => { s.ticks = Y_TICKS.map((v) => ({ value: v })); },
            afterFit: (s: any) => { s.width = PAD_L; },
            grid: { display: showY, drawOnChartArea: false, drawTicks: true, tickLength: 3.5, color: '#333' },
            border: { display: false },
            ticks: { display: showY, font: tickFont, color: '#222', padding: 3, callback: (v: any) => (v < 0 ? '\u2212' + Math.abs(v) : String(v)) },
          },
        },
      } as any,
      plugins: [framePlugin],
    });
    return () => chart.destroy();
  }, []);
  return (
    <canvas
      ref={ref}
      width={w}
      height={h}
      style={{ position: 'absolute', left: COL_LEFT[col] - PAD_L, top: ROW_TOP[row] - PAD_T, width: w, height: h }}
    />
  );
}

const textFont = "'Liberation Sans', Arial, sans-serif";

export default function App() {
  const panels = buildPanels();
  const legendColors = [TEAL, PINK, TEXT_GRAY];
  const legendTops = [216, 241, 266];
  const rowLabelTops = [90, 224, 375];
  return (
    <div style={{ position: 'absolute', left: 0, top: 0, width: 634, height: 499, background: '#fff', overflow: 'hidden', fontFamily: textFont }}>
      {COL_TITLES.map((t, c) => (
        <div key={t} style={{ position: 'absolute', left: COL_LEFT[c], top: 5, width: COL_W, textAlign: 'center', fontSize: 14, lineHeight: '16px', color: '#111', whiteSpace: 'nowrap' }}>{t}</div>
      ))}
      {ROW_TITLES.map((lines, r) => (
        <div key={r} style={{ position: 'absolute', left: 555, top: rowLabelTops[r], fontSize: 13, lineHeight: '15px', color: '#111', whiteSpace: 'nowrap' }}>
          {lines.map((l) => <div key={l}>{l}</div>)}
        </div>
      ))}
      {LEGEND_LABELS.map((l, i) => (
        <div key={l} style={{ position: 'absolute', left: 11, top: legendTops[i], fontSize: 14, lineHeight: '16px', color: legendColors[i], whiteSpace: 'nowrap' }}>{l}</div>
      ))}
      <div style={{ position: 'absolute', left: COL_LEFT[0], top: 485, width: COL_W * 3, textAlign: 'center', fontSize: 14, lineHeight: '16px', color: '#111' }}>{X_LABEL}</div>
      {panels.map((rowSets, r) => rowSets.map((ds, c) => <Panel key={r + '-' + c} row={r} col={c} datasets={ds} />))}
    </div>
  );
}
